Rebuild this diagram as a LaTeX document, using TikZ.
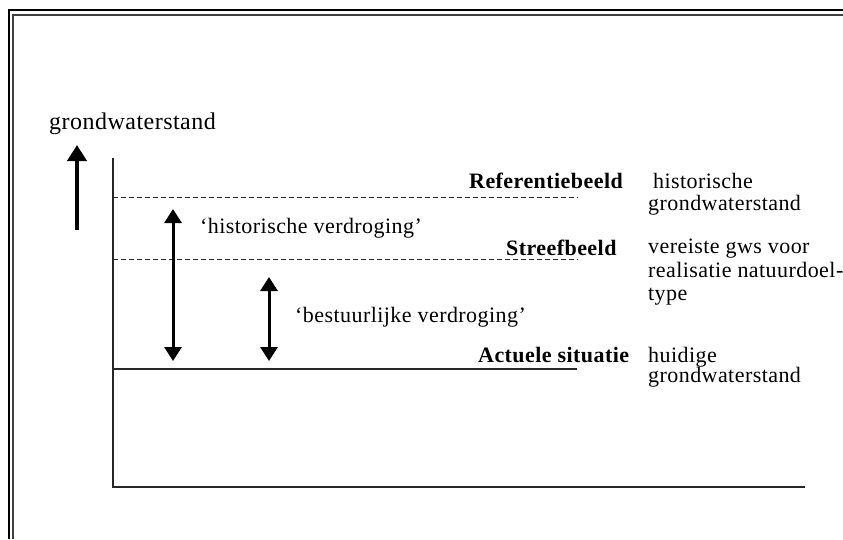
\documentclass[tikz,border=0pt]{standalone}
\usepackage{fontspec}
\setmainfont{Liberation Serif}[LetterSpace=2]
\usepackage{tikz}
\usetikzlibrary{arrows.meta}

\begin{document}
\begin{tikzpicture}[x=1pt,y=-1pt,
  lbl/.style={inner sep=0pt,anchor=base west,font=\fontsize{22}{23}\selectfont},
  niveau/.style={line width=1.3pt,black!85},
  pijl/.style={line width=3pt,{Triangle[width=17pt,length=14pt]}-{Triangle[width=17pt,length=14pt]}}]

\useasboundingbox (0,0) rectangle (843,539);

% kader
\draw[line width=1.1pt] (9,539)--(9,10)--(843,10);
\draw[line width=1.4pt,black!75] (13,539)--(13,15)--(843,15);

% assen
\coordinate (top) at (113,158);
\coordinate (oorsprong) at (113,487);
\coordinate (eind) at (805,487);
\draw[niveau] (top)--(oorsprong)--(eind);

% niveaus
\coordinate (ref1) at (113,197);
\coordinate (ref2) at (578,197);
\coordinate (streef1) at (113,259);
\coordinate (streef2) at (578,259);
\coordinate (act1) at (113,369);
\coordinate (act2) at (577,369);
\draw[niveau,line width=0.9pt,dash pattern=on 5pt off 3pt] (ref1)--(ref2);
\draw[niveau,line width=0.9pt,dash pattern=on 5pt off 3pt] (streef1)--(streef2);
\draw[niveau] (act1)--(act2);

% pijlen
\coordinate (gws1) at (77,230);
\coordinate (gws2) at (77,145);
\draw[line width=4.5pt,-{Triangle[width=19pt,length=16pt]}] (gws1)--(gws2);

\coordinate (hist1) at (173,209);
\coordinate (hist2) at (173,361);
\draw[pijl] (hist1)--(hist2);

\coordinate (best1) at (269,277);
\coordinate (best2) at (269,361);
\draw[pijl] (best1)--(best2);

% teksten
\node[lbl,font=\fontsize{24}{25}\selectfont] (as) at (49,129) {grondwaterstand};
\node[lbl] (histtxt) at (200,233) {‘historische verdroging’};
\node[lbl] (besttxt) at (295,322) {‘bestuurlijke verdroging’};

\node[lbl,font=\fontsize{22}{23}\bfseries] (reftxt) at (469,188) {Referentiebeeld};
\node[lbl,font=\fontsize{22}{23}\bfseries] (streeftxt) at (506,255) {Streefbeeld};
\node[lbl,font=\fontsize{22}{23}\bfseries] (acttxt) at (478,362) {Actuele situatie};

\node[lbl] (ref1a) at (653,188) {historische};
\node[lbl] (ref1b) at (648,210) {grondwaterstand};
\node[lbl] (streef1a) at (648,253) {vereiste gws voor};
\node[lbl] (streef1b) at (648,277) {realisatie natuurdoel-};
\node[lbl] (streef1c) at (648,300) {type};
\node[lbl] (act1a) at (648,362) {huidige};
\node[lbl] (act1b) at (648,382) {grondwaterstand};

\end{tikzpicture}
\end{document}
